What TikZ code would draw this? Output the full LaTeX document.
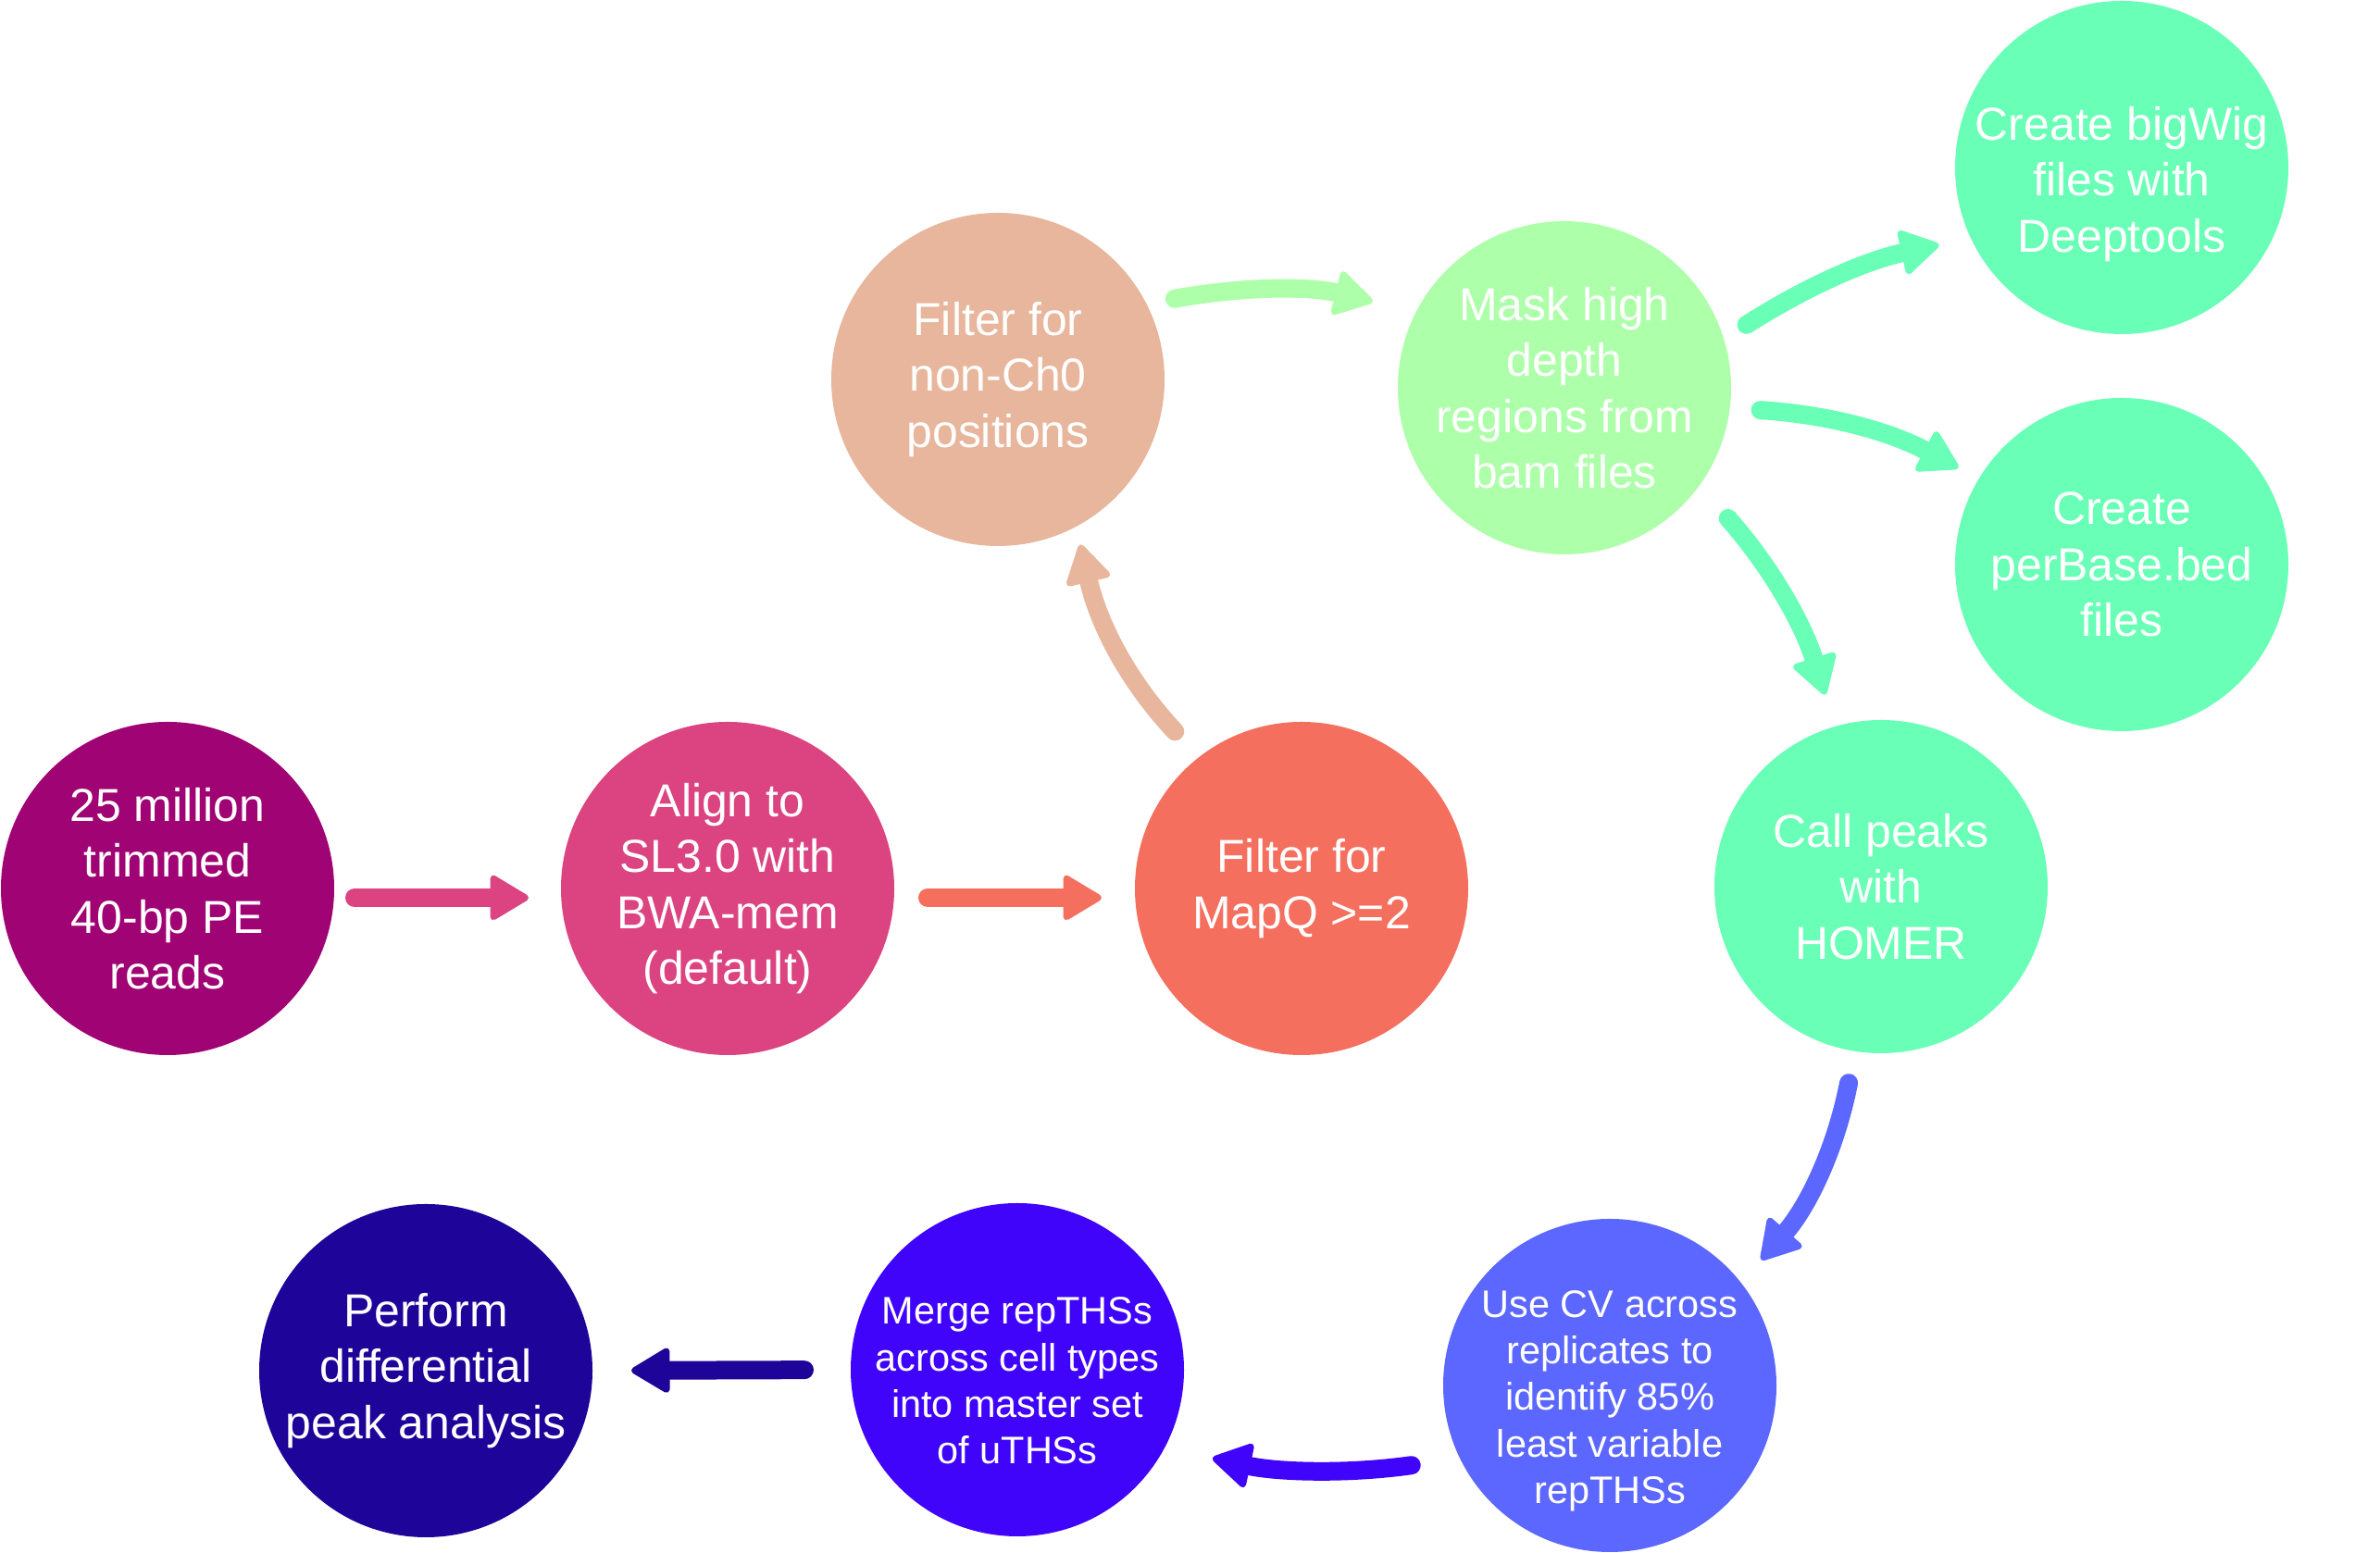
\documentclass[tikz,border=0pt]{standalone}
\usepackage{fontspec}
\setmainfont{Liberation Sans}
\usetikzlibrary{arrows.meta}

\begin{document}
\begin{tikzpicture}[
    stage/.style={circle, minimum size=3.6cm, inner sep=0pt, outer sep=0pt, text=white, align=center, font=\fontsize{14.2}{17.2}\selectfont},
    small/.style={font=\fontsize{11.8}{14.3}\selectfont},
    lowtext/.style={text height=#1, inner sep=-0.5cm},
    flow/.style={line width=0.2cm, line cap=round, -{Triangle[length=0.45cm, width=0.52cm, line width=2pt, round]}}
]
    \useasboundingbox (0, 0) rectangle (25.71, 16.78);

    \node [stage, fill={rgb,255: red,160;green,3;blue,115}] (reads) at (1.81, 7.18) {25 million\\trimmed\\40-bp PE\\reads};
    \node [stage, fill={rgb,255: red,219;green,68;blue,128}] (align) at (7.86, 7.18) {Align to\\SL3.0 with\\BWA-mem\\(default)};
    \node [stage, fill={rgb,255: red,245;green,111;blue,95}] (mapq) at (14.06, 7.18) {Filter for\\MapQ >=2};
    \node [stage, fill={rgb,255: red,231;green,182;blue,156}] (nonch) at (10.78, 12.68) {Filter for\\non-Ch0\\positions};
    \node [stage, fill={rgb,255: red,174;green,255;blue,170}] (mask) at (16.90, 12.59) {Mask high\\depth\\regions from\\bam files};
    % text sits a little lower in these three circles
    \node [stage, lowtext=55pt, fill={rgb,255: red,106;green,255;blue,182}] (bigwig) at (22.92, 14.97) {Create bigWig\\files with\\Deeptools};
    \node [stage, fill={rgb,255: red,106;green,255;blue,182}] (perbase) at (22.92, 10.68) {Create\\perBase.bed\\files};
    \node [stage, fill={rgb,255: red,106;green,255;blue,182}] (homer) at (20.32, 7.20) {Call peaks\\with\\HOMER};
    \node [stage, small, lowtext=75pt, fill={rgb,255: red,92;green,103;blue,255}] (cv) at (17.39, 1.81) {Use CV across\\replicates to\\identify 85\%\\least variable\\repTHSs};
    \node [stage, small, lowtext=58pt, fill={rgb,255: red,64;green,4;blue,250}] (merge) at (10.99, 1.98) {Merge repTHSs\\across cell types\\into master set\\of uTHSs};
    \node [stage, fill={rgb,255: red,30;green,4;blue,152}] (diff) at (4.60, 1.97) {Perform\\differential\\peak analysis};

    % arrows take the colour of the step they point to
    \draw [flow, color={rgb,255: red,219;green,68;blue,128}, shorten <=0.22cm, shorten >=0.35cm] ([yshift=-0.1cm]reads.east) -- ([yshift=-0.1cm]align.west);
    \draw [flow, color={rgb,255: red,245;green,111;blue,95}, shorten <=0.36cm, shorten >=0.36cm] ([yshift=-0.1cm]align.east) -- ([yshift=-0.1cm]mapq.west);
    \draw [flow, color={rgb,255: red,231;green,182;blue,156}, shorten <=0.38cm, shorten >=0.20cm] (mapq.128) to[bend left=15] (nonch.-62);
    \draw [flow, color={rgb,255: red,174;green,255;blue,170}, shorten <=0.31cm, shorten >=0.48cm] (nonch.27) to[bend left=12] (mask.153);
    \draw [flow, color={rgb,255: red,106;green,255;blue,182}, shorten <=0.29cm, shorten >=0.35cm] (mask.17) to[bend left=10] (bigwig.-155);
    \draw [flow, color={rgb,255: red,106;green,255;blue,182}, shorten <=0.33cm, shorten >=0.25cm] (mask.-7) to[bend left=12] (perbase.149);
    \draw [flow, color={rgb,255: red,106;green,255;blue,182}, shorten <=0.47cm, shorten >=0.36cm] (mask.-36) to[bend left=12] (homer.106);
    \draw [flow, color={rgb,255: red,92;green,103;blue,255}, shorten <=0.35cm, shorten >=0.33cm] (homer.-99) to[bend left=15] (cv.38);
    \draw [flow, color={rgb,255: red,64;green,4;blue,250}, shorten <=0.53cm, shorten >=0.53cm] (cv.206) to[bend left=10] (merge.-28);
    \draw [flow, color={rgb,255: red,30;green,4;blue,152}, shorten <=0.50cm, shorten >=0.42cm] (merge.west) -- (diff.east);
\end{tikzpicture}
\end{document}
